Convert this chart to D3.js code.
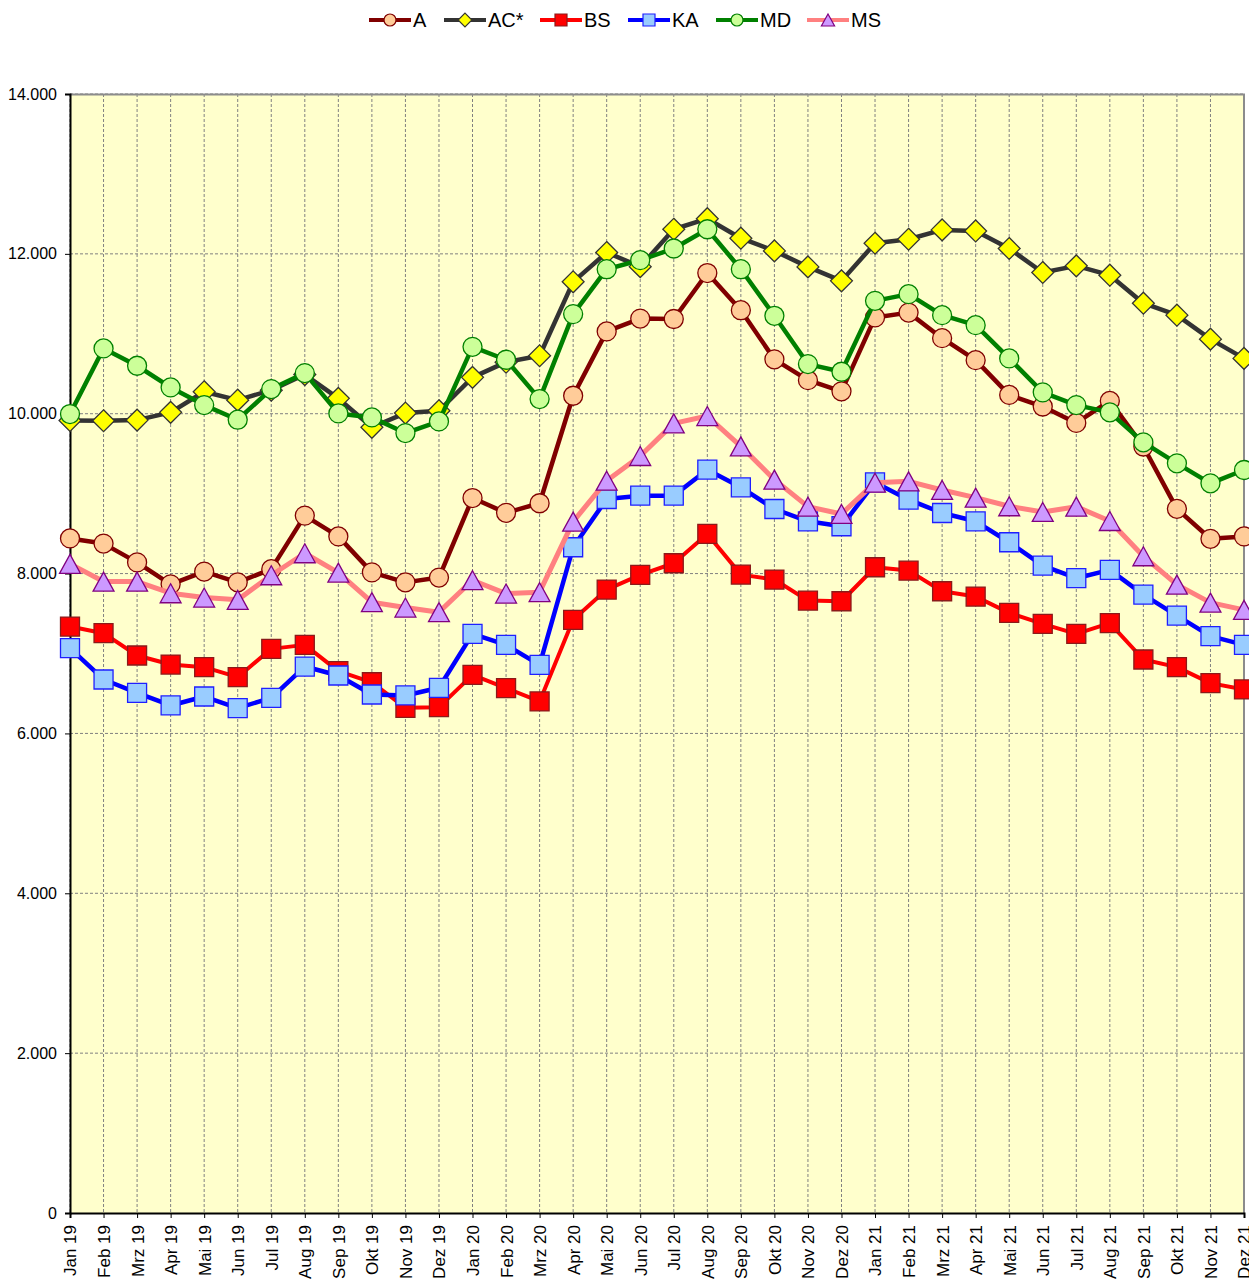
<!DOCTYPE html>
<html>
<head>
<meta charset="utf-8">
<script src="https://cdn.jsdelivr.net/npm/d3@7"></script>
<style>
  body { margin: 0; background: #fff; }
  text { font-family: "Liberation Sans", Arial, sans-serif; fill: #000; }
</style>
</head>
<body>
<div id="chart"></div>
<script>
let svgWidth = 1249;
let svgHeight = 1283;

let margin = { top: 94, right: 5, bottom: 70, left: 70 };

// data
let months = ["Jan 19","Feb 19","Mrz 19","Apr 19","Mai 19","Jun 19","Jul 19","Aug 19","Sep 19","Okt 19","Nov 19","Dez 19",
              "Jan 20","Feb 20","Mrz 20","Apr 20","Mai 20","Jun 20","Jul 20","Aug 20","Sep 20","Okt 20","Nov 20","Dez 20",
              "Jan 21","Feb 21","Mrz 21","Apr 21","Mai 21","Jun 21","Jul 21","Aug 21","Sep 21","Okt 21","Nov 21","Dez 21"];

let valuesA  = [8440,8375,8140,7865,8025,7890,8055,8725,8465,8015,7890,7950,
                8945,8760,8880,10225,11030,11190,11185,11760,11295,10680,10420,10280,
                11205,11265,10945,10670,10235,10090,9885,10160,9590,8810,8435,8465];
let valuesAC = [9915,9912,9920,10017,10275,10170,10295,10490,10192,9830,10008,10037,
                10455,10645,10725,11650,12017,11840,12308,12440,12196,12037,11837,11662,
                12133,12183,12300,12287,12067,11767,11850,11733,11383,11233,10933,10692];
let valuesBS = [7337,7254,6975,6862,6829,6704,7058,7108,6780,6640,6320,6329,
                6733,6567,6400,7421,7800,7983,8129,8496,7987,7925,7662,7654,
                8079,8037,7779,7712,7508,7371,7246,7379,6925,6829,6629,6550];
let valuesKA = [7067,6675,6508,6350,6462,6316,6446,6837,6725,6487,6475,6571,
                7246,7108,6858,8329,8933,8975,8975,9300,9079,8808,8654,8592,
                9140,8925,8758,8654,8392,8100,7942,8046,7737,7475,7217,7108];
let valuesMD = [9996,10817,10600,10329,10108,9925,10308,10508,10004,9954,9758,9904,
                10837,10675,10183,11246,11808,11921,12067,12308,11808,11225,10621,10525,
                11412,11496,11233,11108,10692,10267,10108,10017,9642,9379,9129,9296];
let valuesMS = [8121,7900,7900,7754,7700,7671,7979,8254,8012,7642,7575,7517,
                7917,7750,7767,8650,9162,9471,9879,9971,9592,9175,8837,8746,
                9137,9154,9046,8950,8842,8771,8837,8658,8217,7862,7637,7546];

let yTicks = [0,2000,4000,6000,8000,10000,12000,14000];

let series = [
  { name: "A",   values: valuesA,  line: "#800000", fill: "#FFCC99", stroke: "#800000", shape: "circle",   lw: 4.5 },
  { name: "AC*", values: valuesAC, line: "#333333", fill: "#FFFF00", stroke: "#333333", shape: "diamond",  lw: 4.5 },
  { name: "BS",  values: valuesBS, line: "#FF0000", fill: "#FF0000", stroke: "#8B1A1A", shape: "square",   lw: 4 },
  { name: "KA",  values: valuesKA, line: "#0000FF", fill: "#99CCFF", stroke: "#1F1FFF", shape: "square",   lw: 4.5 },
  { name: "MD",  values: valuesMD, line: "#008000", fill: "#CCFF99", stroke: "#008000", shape: "circle",   lw: 4.5 },
  { name: "MS",  values: valuesMS, line: "#FF8080", fill: "#CC99FF", stroke: "#800080", shape: "triangle", lw: 5 }
];

let chartWidth = svgWidth - margin.left - margin.right;
let chartHeight = svgHeight - margin.top - margin.bottom;

let de = d3.formatLocale({ decimal: ",", thousands: ".", grouping: [3], currency: ["", " €"] });
let fmt = de.format(",.0f");

let svg = d3.select("#chart")
  .append("svg")
  .attr("width", svgWidth)
  .attr("height", svgHeight);

let chartGroup = svg.append("g")
  .attr("transform", `translate(${margin.left}, ${margin.top})`);

let x = d3.scalePoint()
  .domain(months)
  .range([0, chartWidth]);

let y = d3.scaleLinear()
  .domain([0, 14000])
  .range([chartHeight, 0]);

// plot background
chartGroup.append("rect")
  .attr("width", chartWidth)
  .attr("height", chartHeight)
  .attr("fill", "#FFFFCC");

// grid
chartGroup.append("g")
  .selectAll("line")
  .data(months)
  .enter().append("line")
  .attr("x1", d => x(d)).attr("x2", d => x(d))
  .attr("y1", 0).attr("y2", chartHeight)
  .attr("stroke", "#808080")
  .attr("stroke-width", 1)
  .attr("stroke-dasharray", "3,2");

chartGroup.append("g")
  .selectAll("line")
  .data(yTicks.filter(d => d > 0))
  .enter().append("line")
  .attr("x1", 0).attr("x2", chartWidth)
  .attr("y1", d => y(d)).attr("y2", d => y(d))
  .attr("stroke", "#808080")
  .attr("stroke-width", 1)
  .attr("stroke-dasharray", "3,2");

// top / right border
chartGroup.append("path")
  .attr("d", `M0,0.5H${chartWidth}V${chartHeight}`)
  .attr("fill", "none")
  .attr("stroke", "#8c8c8c")
  .attr("stroke-width", 2);

// axes
let leftAxis = d3.axisLeft(y).tickValues(yTicks).tickFormat(fmt).tickSize(5).tickPadding(8);
let bottomAxis = d3.axisBottom(x).tickSize(5).tickPadding(6);

let yAxisG = chartGroup.append("g").call(leftAxis);
yAxisG.select(".domain").attr("stroke", "#000").attr("stroke-width", 2);
yAxisG.selectAll("text").attr("font-size", "16px").attr("font-family", "Liberation Sans, Arial, sans-serif");

let xAxisG = chartGroup.append("g")
  .attr("transform", `translate(0, ${chartHeight})`)
  .call(bottomAxis);
xAxisG.select(".domain").attr("stroke", "#000").attr("stroke-width", 2);
xAxisG.selectAll("text")
  .attr("font-size", "17px")
  .attr("font-family", "Liberation Sans, Arial, sans-serif")
  .attr("transform", "rotate(-90)")
  .attr("text-anchor", "end")
  .attr("x", -12)
  .attr("y", 0)
  .attr("dy", "0.35em");

// marker shapes
function shapePath(shape, s) {
  if (shape === "circle") return d3.symbol(d3.symbolCircle, Math.PI * s * s)();
  if (shape === "square") return `M${-s},${-s}H${s}V${s}H${-s}Z`;
  if (shape === "diamond") return `M0,${-s * 1.15}L${s * 1.15},0L0,${s * 1.15}L${-s * 1.15},0Z`;
  if (shape === "triangle") return `M0,${-s}L${s * 1.1},${s}L${-s * 1.1},${s}Z`;
}

let markerSize = { circle: 9.5, square: 9.5, diamond: 9.5, triangle: 9.5 };

let line = d3.line()
  .x((d, i) => x(months[i]))
  .y(d => y(d));

series.forEach(function(s) {
  let g = chartGroup.append("g");
  g.append("path")
    .attr("d", line(s.values))
    .attr("fill", "none")
    .attr("stroke", s.line)
    .attr("stroke-width", s.lw)
    .attr("stroke-linejoin", "round");
  g.selectAll(".mk")
    .data(s.values)
    .enter().append("path")
    .attr("class", "mk")
    .attr("transform", (d, i) => `translate(${x(months[i])}, ${y(d)})`)
    .attr("d", shapePath(s.shape, markerSize[s.shape]))
    .attr("fill", s.fill)
    .attr("stroke", s.stroke)
    .attr("stroke-width", 1.3);
});

// legend
let legendX = [369, 444, 540, 628, 716, 807];
let legend = svg.append("g").attr("transform", "translate(0, 20)");
series.forEach(function(s, i) {
  let g = legend.append("g").attr("transform", `translate(${legendX[i]}, 0)`);
  g.append("line")
    .attr("x1", 0).attr("x2", 42)
    .attr("y1", 0).attr("y2", 0)
    .attr("stroke", s.line)
    .attr("stroke-width", 4);
  g.append("path")
    .attr("transform", "translate(21, 0)")
    .attr("d", shapePath(s.shape, 6))
    .attr("fill", s.fill)
    .attr("stroke", s.stroke)
    .attr("stroke-width", 1.2);
  g.append("text")
    .attr("x", 44)
    .attr("y", 0)
    .attr("dy", "0.36em")
    .attr("font-size", "20px")
    .text(s.name);
});
</script>
</body>
</html>
